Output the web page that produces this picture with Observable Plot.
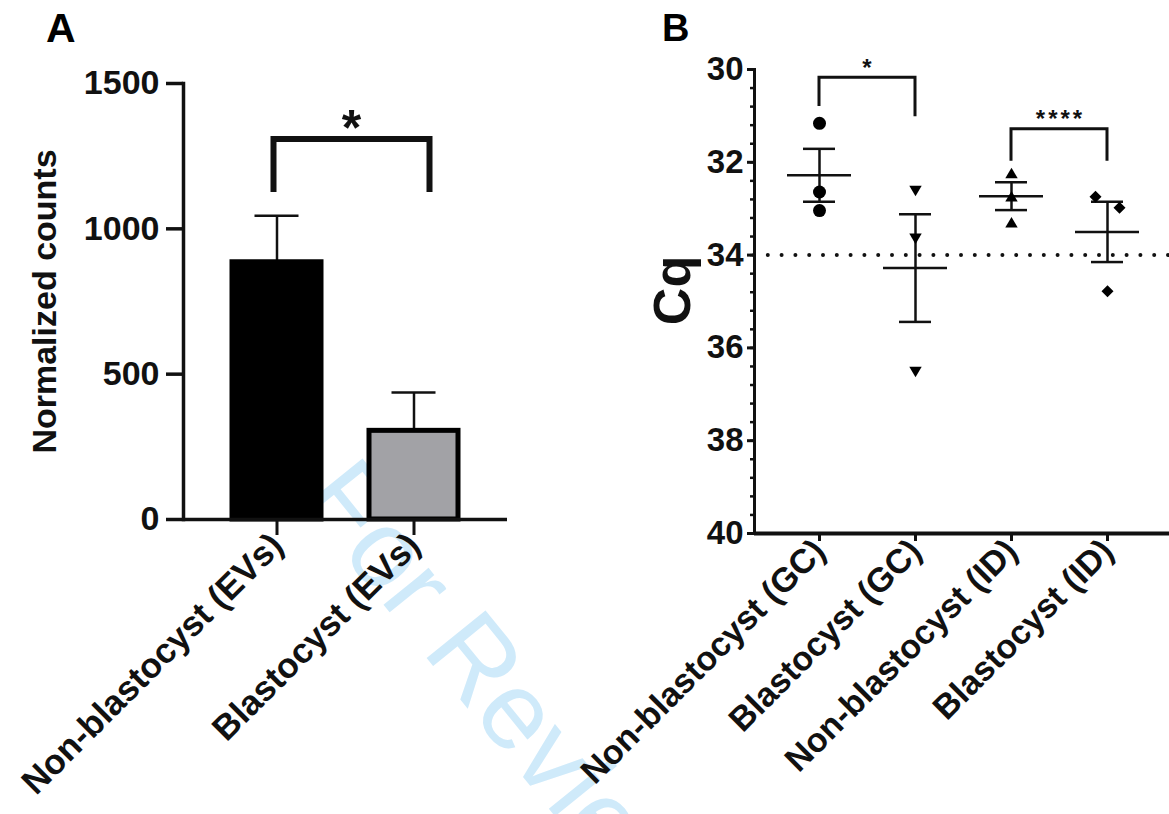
<!DOCTYPE html>
<html>
<head>
<meta charset="utf-8">
<script src="https://cdn.jsdelivr.net/npm/d3@7"></script>
<script src="https://cdn.jsdelivr.net/npm/@observablehq/plot@0.6"></script>
<style>
html, body { margin: 0; padding: 0; background: #fff; }
#root { position: relative; width: 1169px; height: 814px; overflow: hidden; font-family: "Liberation Sans", Arial, sans-serif; }
#root > svg { position: absolute; top: 0; }
</style>
</head>
<body>
<div id="root"></div>
<script>
// ---------- Panel A data ----------
const groupsA = ["Non-blastocyst (EVs)", "Blastocyst (EVs)"];
const meansA = [885, 305];
const semA = [160, 132];
const fillsA = ["#000000", "#a2a2a6"];
const yTicksA = [0, 500, 1000, 1500];
const bracketsA = [{from: "Non-blastocyst (EVs)", to: "Blastocyst (EVs)", top: 1307, leftEnd: 1125, rightEnd: 1125, label: "*"}];

// ---------- Panel B data ----------
const groupsB = ["Non-blastocyst (GC)", "Blastocyst (GC)", "Non-blastocyst (ID)", "Blastocyst (ID)"];
const cqNonBlastGC = [31.16, 32.64, 33.04];
const cqBlastGC = [32.62, 33.65, 36.52];
const cqNonBlastID = [32.23, 32.73, 33.29];
const cqBlastID = [32.74, 32.98, 34.78];
const blastIDSide = [-1, 1, 0];           // replicate spread in the last column
const meansB = [32.28, 34.28, 32.73, 33.50];
const semB = [0.57, 1.16, 0.30, 0.65];
const thresholdB = 34;
const yTicksB = [30, 32, 34, 36, 38, 40];
const minorTicksB = [30, 30.4, 30.8, 31.2, 31.6, 32, 32.4, 32.8, 33.2, 33.6, 34, 34.4, 34.8, 35.2, 35.6, 36, 36.4, 36.8, 37.2, 37.6, 38, 38.4, 38.8, 39.2, 39.6, 40];
const bracketsB = [
  {from: "Non-blastocyst (GC)", to: "Blastocyst (GC)", top: 30.18, leftEnd: 30.8, rightEnd: 31.02, label: "*"},
  {from: "Non-blastocyst (ID)", to: "Blastocyst (ID)", top: 31.29, leftEnd: 31.98, rightEnd: 31.98, label: "****"}
];

// ---------- helpers ----------
const FONT = "Liberation Sans, Arial, sans-serif";
const INK = "#111";

function triangleSymbol(dir) { // dir = 1 points down, -1 points up
  return {draw(ctx, size) {
    const r = Math.sqrt(size / Math.PI);
    const w = r, h = r * 0.85;
    ctx.moveTo(-w, -dir * h); ctx.lineTo(w, -dir * h); ctx.lineTo(0, dir * h); ctx.closePath();
  }};
}
const diamondSymbol = {draw(ctx, size) {
  const r = Math.sqrt(size / Math.PI);
  ctx.moveTo(0, -r); ctx.lineTo(r, 0); ctx.lineTo(0, r); ctx.lineTo(-r, 0); ctx.closePath();
}};

function bracketMark(specs, {dxFrom = 0, dxTo = 0, strokeWidth = 3, fontSize = 20, labelGap = 15, letterSpacing = 0}) {
  return (index, scales) => {
    const {x, y} = scales;
    const half = x.bandwidth ? x.bandwidth() / 2 : 0;
    const g = d3.create("svg:g").attr("aria-label", "significance");
    for (const s of specs) {
      const x1 = x(s.from) + half + dxFrom, x2 = x(s.to) + half + dxTo;
      const yt = y(s.top), y1 = y(s.leftEnd), y2 = y(s.rightEnd);
      g.append("path")
        .attr("d", `M${x1},${y1}V${yt}H${x2}V${y2}`)
        .attr("fill", "none").attr("stroke", INK).attr("stroke-width", strokeWidth);
      g.append("text")
        .attr("x", (x1 + x2) / 2 + letterSpacing / 2)
        .attr("y", yt - labelGap + 0.56 * fontSize)
        .attr("text-anchor", "middle")
        .attr("font-size", fontSize).attr("font-weight", "bold")
        .attr("letter-spacing", letterSpacing)
        .attr("fill", INK)
        .text(s.label);
    }
    return g.node();
  };
}

const root = document.getElementById("root");

// ---------- background: watermark + panel letters ----------
const bg = d3.create("svg").attr("width", 1169).attr("height", 814).style("left", "0px");
bg.append("text")
  .attr("x", 298).attr("y", 499)
  .attr("transform", "rotate(51 298 499)")
  .attr("font-family", FONT).attr("font-size", 110).attr("fill", "#cfeafa")
  .text("For Review");
bg.append("text").attr("x", 46).attr("y", 42).attr("font-family", FONT).attr("font-weight", "bold").attr("font-size", 41).text("A");
bg.append("text").attr("x", 662).attr("y", 41).attr("font-family", FONT).attr("font-weight", "bold").attr("font-size", 38).text("B");
root.appendChild(bg.node());

// ---------- Panel A ----------
const rowsA = groupsA.map((g, i) => ({group: g, mean: meansA[i], sem: semA[i], fill: fillsA[i]}));

const plotA = Plot.plot({
  width: 520, height: 814,
  marginTop: 83, marginBottom: 295, marginLeft: 183, marginRight: 13,
  style: {background: "transparent", overflow: "visible", fontFamily: FONT, color: INK},
  x: {type: "band", domain: groupsA, range: [183, 507], paddingInner: 0.348, paddingOuter: 0.348},
  y: {domain: [0, 1500]},
  color: {type: "identity"},
  marks: [
    Plot.ruleX(rowsA, {x: "group", y1: "mean", y2: d => d.mean + d.sem, stroke: INK, strokeWidth: 2.5}),
    Plot.tickY(rowsA, {x: "group", y: d => d.mean + d.sem, insetLeft: 22.5, insetRight: 22.5, stroke: INK, strokeWidth: 2.5}),
    Plot.barY(rowsA, {x: "group", y: "mean", fill: "fill", stroke: "#000", strokeWidth: 5}),
    Plot.axisY({ticks: yTicksA, tickFormat: d3.format("d"), tickSize: 17, tickPadding: 7, strokeWidth: 3.5, fontSize: 34, fontWeight: "bold", label: null}),
    Plot.axisX({tickSize: 16, tickPadding: 4, tickRotate: -45, strokeWidth: 3, fontSize: 35, fontWeight: "bold", label: null}),
    Plot.frame({anchor: "left", strokeWidth: 3.5}),
    Plot.ruleY([0], {strokeWidth: 3.5}),
    Plot.text(["Normalized counts"], {frameAnchor: "left", textAnchor: "middle", dx: -138, rotate: -90, fontSize: 34, fontWeight: "bold"}),
    bracketMark(bracketsA, {dxFrom: -3, dxTo: 16, strokeWidth: 6, fontSize: 50, labelGap: 22})
  ]
});
plotA.style.left = "0px";
root.appendChild(plotA);

// ---------- Panel B ----------
const seriesB = [cqNonBlastGC, cqBlastGC, cqNonBlastID, cqBlastID];
const pointsB = groupsB.flatMap((g, i) => seriesB[i].map((v, j) => ({group: g, cq: v, side: i === 3 ? blastIDSide[j] : 0})));
const statsB = groupsB.map((g, i) => ({group: g, mean: meansB[i], lo: meansB[i] - semB[i], hi: meansB[i] + semB[i]}));

const plotB = Plot.plot({
  width: 609, height: 814,
  marginTop: 69, marginBottom: 281, marginLeft: 194, marginRight: 0,
  style: {background: "transparent", overflow: "visible", fontFamily: FONT, color: INK},
  x: {type: "band", domain: groupsB, range: [194, 611], paddingInner: 0.335, paddingOuter: 0.335},
  y: {domain: [30, 40], reverse: true},
  marks: [
    Plot.ruleY([thresholdB], {stroke: INK, strokeWidth: 4, strokeDasharray: "0 13.8", strokeLinecap: "round"}),
    Plot.ruleX(statsB, {x: "group", y1: "lo", y2: "hi", stroke: INK, strokeWidth: 2.5}),
    Plot.tickY(statsB, {x: "group", y: "lo", insetLeft: 16, insetRight: 16, stroke: INK, strokeWidth: 2.5}),
    Plot.tickY(statsB, {x: "group", y: "hi", insetLeft: 16, insetRight: 16, stroke: INK, strokeWidth: 2.5}),
    Plot.tickY(statsB, {x: "group", y: "mean", stroke: INK, strokeWidth: 2.5}),
    Plot.dot(pointsB.filter(d => d.group === groupsB[0]), {x: "group", y: "cq", r: 6.5, fill: "#000", symbol: "circle"}),
    Plot.dot(pointsB.filter(d => d.group === groupsB[1]), {x: "group", y: "cq", r: 6.2, fill: "#000", symbol: triangleSymbol(1)}),
    Plot.dot(pointsB.filter(d => d.group === groupsB[2]), {x: "group", y: "cq", r: 6.2, fill: "#000", symbol: triangleSymbol(-1)}),
    Plot.dot(pointsB.filter(d => d.group === groupsB[3] && d.side === -1), {x: "group", y: "cq", r: 6, dx: -12, fill: "#000", symbol: diamondSymbol}),
    Plot.dot(pointsB.filter(d => d.group === groupsB[3] && d.side === 1), {x: "group", y: "cq", r: 6, dx: 12, fill: "#000", symbol: diamondSymbol}),
    Plot.dot(pointsB.filter(d => d.group === groupsB[3] && d.side === 0), {x: "group", y: "cq", r: 6, fill: "#000", symbol: diamondSymbol}),
    Plot.axisY({ticks: minorTicksB, tickFormat: () => "", tickSize: 4, strokeWidth: 2.5, label: null}),
    Plot.axisY({ticks: yTicksB, tickFormat: d3.format("d"), tickSize: 7, tickPadding: 4, strokeWidth: 3, fontSize: 33, fontWeight: "bold", label: null}),
    Plot.axisX({tickSize: 8, tickPadding: 4, tickRotate: -45, strokeWidth: 3, fontSize: 34, fontWeight: "bold", label: null}),
    Plot.frame({anchor: "left", strokeWidth: 3}),
    Plot.ruleY([40], {strokeWidth: 4}),
    Plot.text(["Cq"], {frameAnchor: "left", textAnchor: "middle", dx: -81, dy: -11, rotate: -90, fontSize: 52, fontWeight: "bold"}),
    bracketMark(bracketsB, {strokeWidth: 3, fontSize: 24, labelGap: 15, letterSpacing: 3})
  ]
});
plotB.style.left = "560px";
root.appendChild(plotB);
</script>
</body>
</html>
